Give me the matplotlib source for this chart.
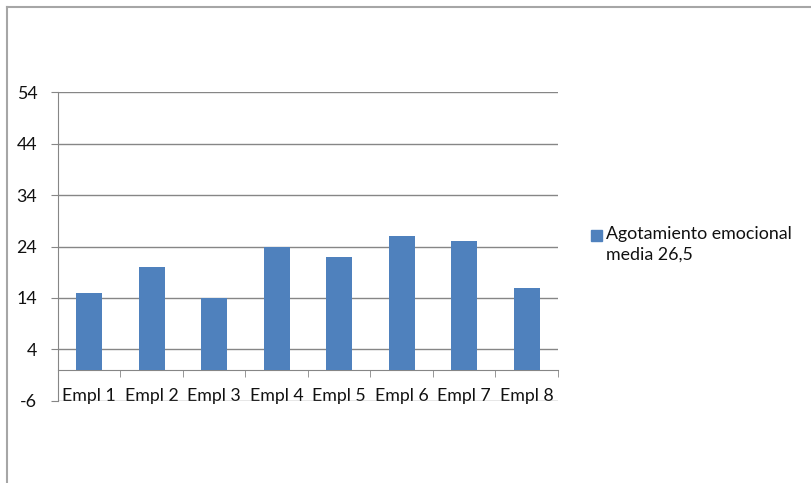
import matplotlib.pyplot as plt
from matplotlib.patches import Rectangle

# data
cats = ['Empl 1', 'Empl 2', 'Empl 3', 'Empl 4', 'Empl 5', 'Empl 6', 'Empl 7', 'Empl 8']
vals = [15, 20, 14, 24, 22, 26, 25, 16]
yticks = [-6, 4, 14, 24, 34, 44, 54]
legend_label = 'Agotamiento emocional\nmedia 26,5'

plt.rcParams['font.family'] = ['Lato', 'DejaVu Sans']
plt.rcParams['axes.unicode_minus'] = False
W, H = 812, 483
fig = plt.figure(figsize=(W / 100, H / 100), dpi=100)

# outer frame lines (top and left only)
fig.add_artist(plt.Line2D([7 / W, 7 / W], [0, 1 - 7 / H], color='#a6a6a6', lw=1.5))
fig.add_artist(plt.Line2D([7 / W, 1], [1 - 7 / H, 1 - 7 / H], color='#a6a6a6', lw=1.5))

ax = fig.add_axes([58 / W, 1 - 400.7 / H, 500 / W, (400.7 - 92.3) / H])
x = range(len(cats))
ax.bar(x, vals, width=0.41, color='#4f81bd', zorder=3)

ax.set_xlim(-0.5, len(cats) - 0.5)
ax.set_ylim(yticks[0], yticks[-1])
ax.set_yticks(yticks)
ax.grid(axis='y', color='#868686', lw=1)
ax.set_axisbelow(True)

for s in ['top', 'right']:
    ax.spines[s].set_visible(False)
ax.spines['left'].set_color('#868686')
ax.spines['bottom'].set_color('#868686')
ax.spines['bottom'].set_position(('data', 0))

fs = 12.8
ax.set_xticks(list(x), cats)
ax.set_xticks([i - 0.5 for i in range(len(cats) + 1)], minor=True)
ax.tick_params(axis='x', which='major', length=0, pad=13, labelsize=fs, labelcolor='#111111')
ax.tick_params(axis='x', which='minor', length=5, color='#868686', direction='out')
ax.tick_params(axis='y', length=5, color='#868686', pad=10, labelsize=fs, labelcolor='#111111')

# legend drawn by hand so the square sits on the first line
fig.add_artist(Rectangle((591 / W, 1 - 241 / H), 11 / W, 11 / H, color='#4f81bd'))
fig.text(606 / W, 1 - 226 / H, legend_label, ha='left', va='top', fontsize=fs,
         linespacing=1.35, color='#111111')

fig.savefig('out.png', dpi=100)
